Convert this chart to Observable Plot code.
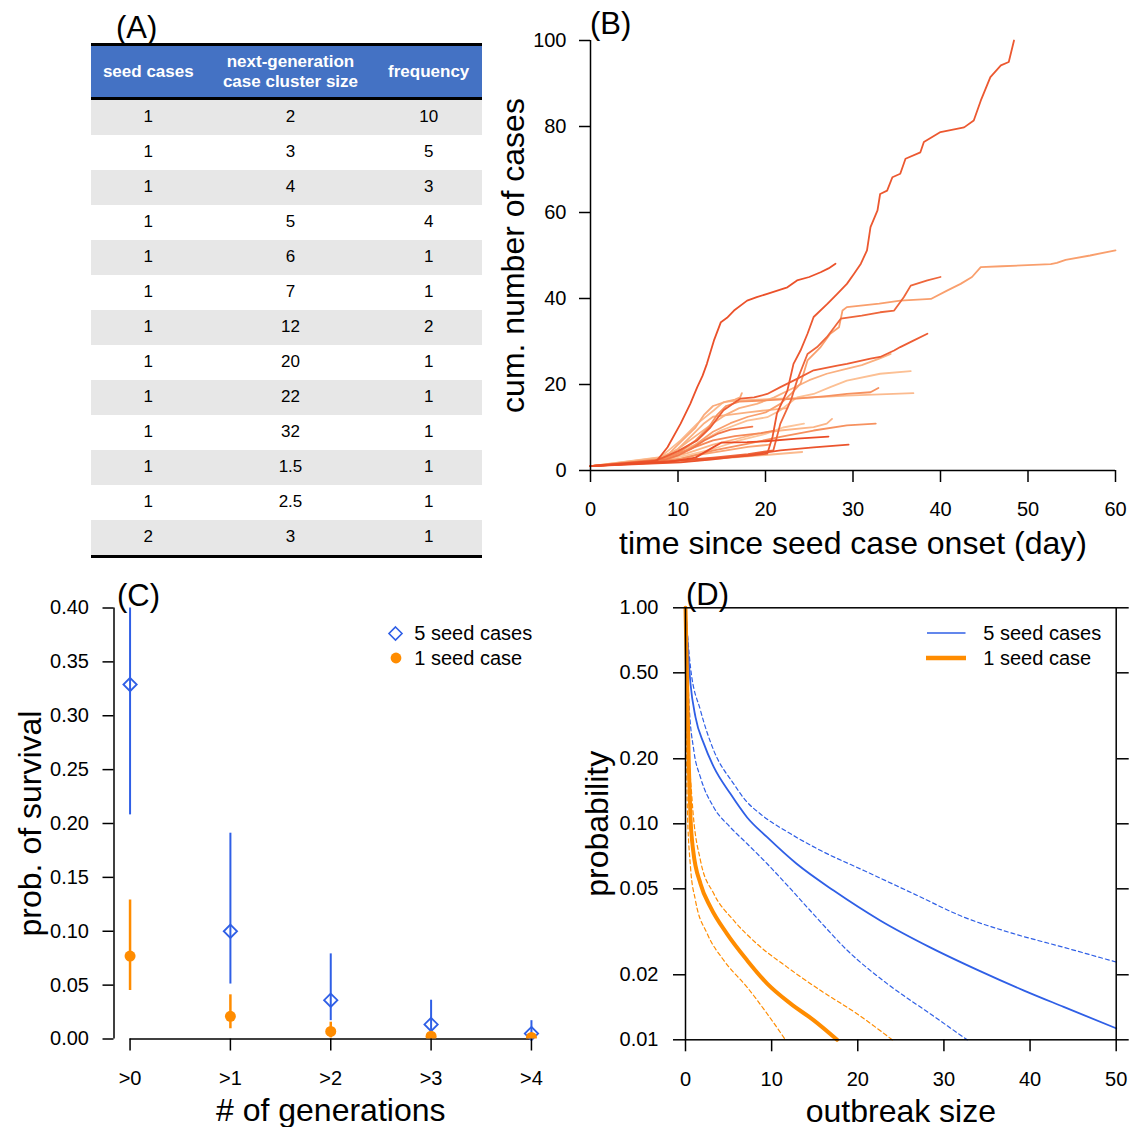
<!DOCTYPE html>
<html>
<head>
<meta charset="utf-8">
<script src="https://cdn.jsdelivr.net/npm/d3@7"></script>
<script src="https://cdn.jsdelivr.net/npm/@observablehq/plot@0.6"></script>
<style>
  html, body { margin: 0; padding: 0; background: #fff; }
  body { width: 1132px; height: 1127px; position: relative; overflow: hidden;
         font-family: "Liberation Sans", Arial, Helvetica, sans-serif; color: #000; }
  .lab { position: absolute; font-size: 31px; line-height: 31px; white-space: nowrap; }
  .leg { position: absolute; font-size: 20px; line-height: 20px; white-space: nowrap; }
  .legsym { position: absolute; overflow: visible; }
  #tbl { position: absolute; left: 90.7px; top: 43.3px; width: 391.6px; border-collapse: separate;
         border-spacing: 0; font-size: 17px; table-layout: fixed; }
  #tbl th { background: #4472c4; color: #fff; font-weight: bold; height: 50.6px; padding: 0;
            border-top: 3.4px solid #000; border-bottom: 3.4px solid #000; line-height: 19.5px;
            white-space: pre; text-align: center; vertical-align: middle; }
  #tbl td { height: 35px; padding: 0; text-align: center; vertical-align: middle; }
  #tbl tr.odd td { background: #e7e7e7; }
  #tbl tr.last td { border-bottom: 3px solid #000; }
  .plotwrap { position: absolute; }
</style>
</head>
<body>
<div class="lab" style="left:116px;top:12px">(A)</div>
<div class="lab" style="left:590px;top:8px">(B)</div>
<div class="lab" style="left:117px;top:580px">(C)</div>
<div class="lab" style="left:686px;top:579px">(D)</div>

<script>
// ---------- Panel A: table ----------
const tableHeaders = ["seed cases", "next-generation\ncase cluster size", "frequency"];
const seedCases = [1, 1, 1, 1, 1, 1, 1, 1, 1, 1, 1, 1, 2];
const clusterSize = ["2", "3", "4", "5", "6", "7", "12", "20", "22", "32", "1.5", "2.5", "3"];
const frequency = [10, 5, 3, 4, 1, 1, 2, 1, 1, 1, 1, 1, 1];

// ---------- Panel B: cumulative case trajectories [day, cases] ----------
const traj01 = [[0,1],[7.6,2.3],[8.8,5.4],[10.3,10.9],[11.4,15.5],[12.2,19.4],[12.8,22],[13.3,24.8],[14.1,30.2],[14.9,34.5],[15.6,35.5],[16.4,37.2],[17.9,39.5],[19,40.3],[20.2,41.1],[22.5,42.6],[23.6,44.2],[25,45],[26.3,46.1],[27.2,47],[28,48.1]];
const traj02 = [[0,1],[8,2],[14,2.8],[18,3.4],[20.2,3.9],[20.8,7.8],[21.3,13.2],[22.5,18.6],[23.2,24.8],[24,27.9],[24.8,31.8],[25.5,35.7],[27.1,38.8],[28.2,41.1],[29.3,43.4],[30.1,45.7],[30.9,48.1],[31.6,51.2],[32,56.6],[32.8,60.5],[33.1,64.3],[33.9,65.1],[34.5,68.2],[35.4,69],[36,72.5],[37.7,74],[38.1,76.4],[40,78.7],[42.7,79.8],[43.8,81.4],[44.6,86],[45.7,91.5],[46.9,94.2],[47.8,95],[48.4,100]];
const traj03 = [[0,1],[8,2],[14,3],[18,3.8],[20.9,4.7],[21.7,10.9],[22.9,16.3],[23.6,20.9],[24.8,27.1],[25.9,28.7],[27,31],[28.6,35.3],[31,36],[33.1,36.8],[34.7,37.2],[35.8,40.3],[36.6,43],[38.5,44.2],[40,45]];
const traj04 = [[0,1],[8,2.2],[10,3.5],[12,6],[14,9],[16,11],[18,12.5],[20,13.5],[21.7,15.5],[23,18],[24,20.2],[24.8,25.6],[26.3,28.7],[27.4,31.8],[28.4,33.3],[28.8,37.2],[29.3,38],[33,38.8],[35.4,39.5],[38.9,39.9],[40.8,41.9],[42.3,43.4],[43.6,45],[44.6,47.3],[47,47.5],[52.6,48],[53.3,48.3],[54.3,49],[57.1,50],[60,51.2]];
const traj05 = [[0,1],[7,2],[8.3,3],[10,4.5],[12.2,7],[13.7,10],[15.2,14],[17.1,16.7],[18.7,17],[20.2,17.8],[21.7,19.4],[23.6,21.3],[25.5,23.3],[28.2,24.4],[29.3,24.8],[32,26],[33.1,26.4],[34.7,27.9],[35.4,28.7],[36.9,30.2],[38.5,31.8]];
const traj06 = [[0,1],[8,2.5],[10,5],[12,8],[14,11],[15.5,13],[17,14.5],[19,15.5],[21,17],[23,19],[25,21],[27,22.5],[29,23.5],[31,24.5],[33,26],[34.3,27.1]];
const traj07 = [[0,1],[8.4,3.1],[12.2,6.2],[14.9,9.3],[17.9,11.6],[20.2,12.4],[21.7,14],[23.6,17],[25.5,17.8],[27.4,19.4],[29.3,20.9],[33.1,22.5],[36.6,23.1]];
const traj08 = [[0,1],[8,3.1],[10.3,7],[12.2,10.9],[14.1,14],[15.2,15.9],[17.1,16.3],[21.7,16.7],[25.5,17],[29.3,17.4],[36.9,18]];
const traj09 = [[0,1],[8,2.5],[10,4],[12,7],[13.5,10],[14.5,13],[15.5,15],[17,16],[20,16.3],[23.6,16.7],[27,17.3],[29.3,17.8],[32,18.2],[32.9,19.2]];
const traj10 = [[0,1],[7.5,2.5],[9,4],[10.5,7],[12,10],[13,13],[14,15],[15.5,16],[16.5,16.5],[17.1,17],[17.3,18]];
const traj11 = [[0,1],[10.3,2.7],[14.1,4.7],[17.9,6.2],[21.7,7.8],[25.5,9.3],[29.3,10.5],[32.6,10.9]];
const traj12 = [[0,1],[8,2.5],[11,4],[14,6],[17,7.5],[19,8.5],[21.7,9.3],[25.5,10.1],[27,10.9],[27.6,12]];
const traj13 = [[0,1],[8,2.3],[11,3.5],[14,5],[17,7],[20,8.5],[22,10],[24.4,10.9]];
const traj14 = [[0,1],[9,2],[12,3],[14.1,5.5],[15,6.5],[17.9,6.6],[20,6.8],[23.6,7.4],[27.2,7.9]];
const traj15 = [[0,1],[10.3,1.9],[14,2.6],[17.9,3.5],[21.7,4.7],[25.5,5.4],[29.5,6]];
const traj16 = [[0,1],[10,2],[15,2.8],[20,3.6],[24.2,4.3]];
const traj17 = [[0,1],[8,2.6],[10,4],[12,5.5],[14,7],[16.5,8],[19.5,8.7],[21,9.3]];
const traj18 = [[0,1],[8,2.8],[10,5],[11.5,8],[13,11],[14,12.5],[16,13],[18,13.5],[20,14],[22.5,14.5]];
const traj19 = [[0,1],[8.5,2.5],[10,3.5],[11.5,5],[13,7],[14.5,8.5],[16,9.5],[18.5,10.2]];
const traj20 = [[0,1],[9,2.2],[12,3.5],[15,4.5],[18,5.5],[20.5,6]];
const trajList = [traj01, traj02, traj03, traj04, traj05, traj06, traj07, traj08, traj09, traj10,
                  traj11, traj12, traj13, traj14, traj15, traj16, traj17, traj18, traj19, traj20];
const trajShade = [0.92, 0.88, 0.8, 0.45, 0.85, 0.3, 0.15, 0.2, 0.55, 0.35,
                   0.55, 0.25, 0.1, 0.95, 0.9, 0.2, 0.6, 0.3, 0.7, 0.4];
const bXTicks = [0, 10, 20, 30, 40, 50, 60];
const bYTicks = [0, 20, 40, 60, 80, 100];
const bXTitle = "time since seed case onset (day)";
const bYTitle = "cum. number of cases";

// ---------- Panel C: probability of survival ----------
const genLabels = [">0", ">1", ">2", ">3", ">4"];
const surv5 = [0.329, 0.100, 0.036, 0.0135, 0.005];
const surv5Lo = [0.208, 0.051, 0.017, 0.006, 0.0015];
const surv5Hi = [0.400, 0.191, 0.079, 0.036, 0.017];
const surv1 = [0.077, 0.021, 0.007, 0.0026, 0.0015];
const surv1Lo = [0.045, 0.0095, 0.001, 0.0005, 0.0002];
const surv1Hi = [0.129, 0.041, 0.0156, 0.006, 0.003];
const cYTicks = [0, 0.05, 0.10, 0.15, 0.20, 0.25, 0.30, 0.35, 0.40];
const cXTitle = "# of generations";
const cYTitle = "prob. of survival";
const legendLabels = ["5 seed cases", "1 seed case"];

// ---------- Panel D: outbreak size distribution [size, probability] ----------
const blueEst = [[0,1],[0.58,0.445],[1.16,0.312],[2.13,0.235],[3.29,0.183],[5.2,0.138],[7.16,0.107],[9.48,0.0867],[12.9,0.0653],[17.2,0.0491],[22.6,0.0357],[28.4,0.0268],[34.2,0.0208],[39.3,0.0169],[43.9,0.0142],[50,0.0113]];
const blueHi = [[0,1],[0.58,0.531],[1.74,0.335],[3.29,0.218],[5.6,0.153],[7,0.128],[8.7,0.111],[12.2,0.0899],[15.7,0.0752],[20.7,0.0608],[26.5,0.0474],[32.3,0.037],[38.1,0.031],[43.9,0.0268],[50,0.0229]];
const blueLo = [[0,1],[0.39,0.372],[0.97,0.218],[1.74,0.164],[3.29,0.119],[5.2,0.0964],[7.16,0.0808],[9.48,0.0653],[11.8,0.052],[14.9,0.038],[18.8,0.0259],[23.4,0.0182],[28.4,0.0132],[32.7,0.01]];
const orangeEst = [[0,1],[0.19,0.445],[0.39,0.183],[0.58,0.107],[0.89,0.0752],[1.74,0.0528],[2.9,0.0411],[4.8,0.031],[7.16,0.0233],[9.48,0.0182],[12.2,0.0147],[14.9,0.0123],[17.6,0.01]];
const orangeHi = [[0,1],[0.19,0.372],[0.77,0.128],[1.74,0.0676],[3.29,0.0474],[5.6,0.0357],[8.3,0.0278],[11.8,0.0217],[15.7,0.0169],[19.9,0.0132],[24,0.01]];
const orangeLo = [[0,1],[0.1,0.35],[0.19,0.128],[0.58,0.063],[1.16,0.0441],[2.52,0.031],[4.45,0.0233],[7.16,0.0175],[9.48,0.0132],[11.6,0.01]];
const dXTicks = [0, 10, 20, 30, 40, 50];
const dYTicks = [1, 0.5, 0.2, 0.1, 0.05, 0.02, 0.01];
const dXTitle = "outbreak size";
const dYTitle = "probability";

// ---------- styles ----------
const fontFamily = '"Liberation Sans", Arial, Helvetica, sans-serif';
const blue = "#2f5fe6";
const orange = "#ff8c00";
const titleSize = 32;
const baseStyle = {fontFamily, fontSize: "20px", color: "#000", background: "transparent", overflow: "visible"};

function place(node, left, top) {
  const w = document.createElement("div");
  w.className = "plotwrap";
  w.style.left = left + "px";
  w.style.top = top + "px";
  w.appendChild(node);
  document.body.appendChild(w);
}
function xTitle(text, dy) {
  return Plot.text([text], {frameAnchor: "bottom", dy, lineAnchor: "middle", textAnchor: "middle", fontSize: titleSize});
}
function yTitle(text, dx) {
  return Plot.text([text], {frameAnchor: "left", dx, rotate: -90, lineAnchor: "middle", textAnchor: "middle", fontSize: titleSize});
}

// ---------- build table ----------
const table = d3.select("body").append("table").attr("id", "tbl");
const cg = table.append("colgroup");
[115.2, 169.2, 107.2].forEach(w => cg.append("col").style("width", w + "px"));
table.append("thead").append("tr").selectAll("th").data(tableHeaders).join("th").text(d => d);
const tb = table.append("tbody");
seedCases.forEach((s, i) => {
  const tr = tb.append("tr").attr("class", (i % 2 === 0 ? "odd" : "even") + (i === seedCases.length - 1 ? " last" : ""));
  [s, clusterSize[i], frequency[i]].forEach(v => tr.append("td").text(v));
});

// ---------- Panel B ----------
const bRows = trajList
  .map((pts, i) => ({pts, i, shade: trajShade[i]}))
  .sort((a, b) => a.shade - b.shade)
  .flatMap(({pts, i, shade}) => pts.map(([day, cases]) => ({id: i, shade, day, cases})));

const plotB = Plot.plot({
  width: 662, height: 570,
  marginLeft: 120, marginRight: 17, marginTop: 40, marginBottom: 100,
  style: baseStyle,
  x: {domain: [0, 60]},
  y: {domain: [0, 100]},
  color: {type: "linear", domain: [0, 0.5, 1], range: ["#fdd0a8", "#f89a66", "#e8431f"]},
  marks: [
    Plot.line(bRows, {x: "day", y: "cases", z: "id", stroke: "shade", strokeWidth: 1.8, strokeLinejoin: "round"}),
    Plot.ruleX([0], {strokeWidth: 1.5}),
    Plot.ruleY([0], {strokeWidth: 1.5}),
    Plot.axisX({ticks: bXTicks, tickSize: 12, tickPadding: 19, label: null, fontSize: 20, strokeWidth: 1.5}),
    Plot.axisY({ticks: bYTicks, tickSize: 11, tickPadding: 13, label: null, fontSize: 20, strokeWidth: 1.5}),
    xTitle(bXTitle, 73),
    yTitle(bYTitle, -77)
  ]
});
place(plotB, 470, 0);

// ---------- Panel C ----------
const cIdx = genLabels.map((_, i) => i);
const c5 = cIdx.map(i => ({g: i, est: surv5[i], lo: surv5Lo[i], hi: surv5Hi[i]}));
const c1 = cIdx.map(i => ({g: i, est: surv1[i], lo: surv1Lo[i], hi: surv1Hi[i]}));
const cXDomain = [-0.16, cIdx.length - 1 + 0.16];

const plotC = Plot.plot({
  width: 565, height: 547,
  marginLeft: 113.5, marginRight: 18, marginTop: 27.5, marginBottom: 88.5,
  style: baseStyle,
  x: {domain: cXDomain},
  y: {domain: [0, 0.4]},
  marks: [
    Plot.ruleX([cXDomain[0]], {y1: 0, y2: 0.4, strokeWidth: 1.5}),
    Plot.ruleY([0], {x1: cIdx[0], x2: cIdx[cIdx.length - 1], strokeWidth: 1.5}),
    Plot.ruleX(c5, {x: "g", y1: "lo", y2: "hi", stroke: blue, strokeWidth: 2}),
    Plot.dot(c5, {x: "g", y: "est", symbol: "diamond2", r: 6, stroke: blue, strokeWidth: 1.8, fill: "none"}),
    Plot.ruleX(c1, {x: "g", y1: "lo", y2: "hi", stroke: orange, strokeWidth: 2.5}),
    Plot.dot(c1, {x: "g", y: "est", r: 5.5, fill: orange, stroke: "none", clip: true}),
    Plot.axisX({ticks: cIdx, tickFormat: i => genLabels[i], tickSize: 12, tickPadding: 20, label: null, fontSize: 20, strokeWidth: 1.5}),
    Plot.axisY({ticks: cYTicks, tickFormat: d3.format(".2f"), tickSize: 11, tickPadding: 14, label: null, fontSize: 20, strokeWidth: 1.5}),
    xTitle(cXTitle, 71.5),
    yTitle(cYTitle, -83.5)
  ]
});
place(plotC, 0, 580);

// ---------- Panel D ----------
const plotD = Plot.plot({
  width: 567, height: 547,
  marginLeft: 120, marginRight: 16.3, marginTop: 27.3, marginBottom: 87.7,
  style: baseStyle,
  x: {domain: [0, 50]},
  y: {type: "log", domain: [0.01, 1]},
  marks: [
    Plot.line(blueHi, {stroke: blue, strokeWidth: 1.2, strokeDasharray: "4,3", curve: "monotone-x"}),
    Plot.line(blueLo, {stroke: blue, strokeWidth: 1.2, strokeDasharray: "4,3", curve: "monotone-x"}),
    Plot.line(blueEst, {stroke: blue, strokeWidth: 1.8, curve: "monotone-x"}),
    Plot.line(orangeHi, {stroke: orange, strokeWidth: 1.2, strokeDasharray: "4,3", curve: "monotone-x"}),
    Plot.line(orangeLo, {stroke: orange, strokeWidth: 1.2, strokeDasharray: "4,3", curve: "monotone-x"}),
    Plot.line(orangeEst, {stroke: orange, strokeWidth: 4, curve: "monotone-x"}),
    Plot.frame({strokeWidth: 1.5}),
    Plot.axisX({ticks: dXTicks, tickSize: 12, tickPadding: 20, label: null, fontSize: 20, strokeWidth: 1.5}),
    Plot.axisY({ticks: dYTicks, tickFormat: d3.format(".2f"), tickSize: 12, tickPadding: 15, label: null, fontSize: 20, strokeWidth: 1.5}),
    Plot.axisY({anchor: "right", ticks: dYTicks, tickFormat: () => "", tickSize: 12, label: null, strokeWidth: 1.5}),
    xTitle(dXTitle, 71.5),
    yTitle(dYTitle, -88)
  ]
});
place(plotD, 565, 580);

// ---------- legends (C and D) ----------
function legendRow(symSvg, symLeft, symTop, w, h, text, textLeft, centerY) {
  const s = document.createElementNS("http://www.w3.org/2000/svg", "svg");
  s.setAttribute("class", "legsym");
  s.setAttribute("width", w); s.setAttribute("height", h);
  s.style.left = symLeft + "px"; s.style.top = symTop + "px";
  s.innerHTML = symSvg;
  document.body.appendChild(s);
  const t = document.createElement("div");
  t.className = "leg";
  t.textContent = text;
  t.style.left = textLeft + "px";
  t.style.top = (centerY - 10) + "px";
  document.body.appendChild(t);
}
// C legend
legendRow(`<polygon points="7.5,1 14,7.5 7.5,14 1,7.5" fill="none" stroke="${blue}" stroke-width="1.6"/>`,
          388, 625.5, 15, 15, legendLabels[0], 414.3, 633);
legendRow(`<circle cx="6" cy="6" r="5.4" fill="${orange}"/>`,
          389.5, 652.3, 12, 12, legendLabels[1], 414.3, 658);
// D legend
legendRow(`<line x1="0" y1="3" x2="38.5" y2="3" stroke="${blue}" stroke-width="1.5"/>`,
          926.7, 629.7, 39, 6, legendLabels[0], 983.3, 633);
legendRow(`<line x1="0" y1="3" x2="40" y2="3" stroke="${orange}" stroke-width="4.5"/>`,
          926, 654.7, 40, 6, legendLabels[1], 983.3, 658);
</script>
</body>
</html>
